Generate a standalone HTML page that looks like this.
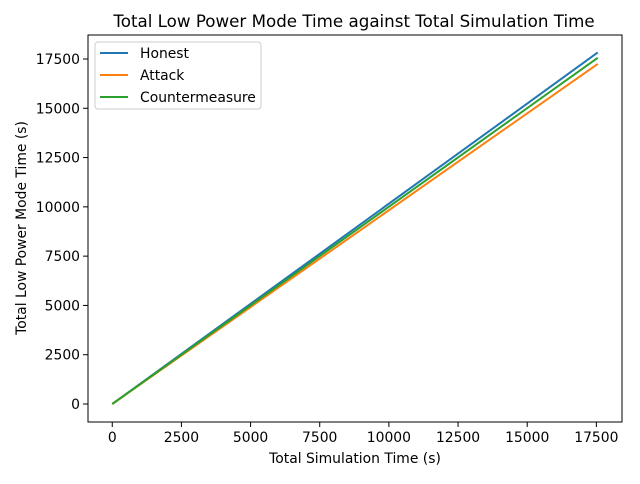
<!DOCTYPE html>
<html><head><meta charset="utf-8"><style>
body{margin:0;background:#fff;font-family:"DejaVu Sans","Liberation Sans",sans-serif}
svg text{font-family:"DejaVu Sans","Liberation Sans",sans-serif;fill:#000}
</style></head><body>
<svg id="c" width="640" height="480" xmlns="http://www.w3.org/2000/svg"></svg>
<script>
const xs=[0,17550];
const honest=[0,17830];
const attack=[0,17250];
const counter=[0,17560];
const xTicks=[0,2500,5000,7500,10000,12500,15000,17500];
const yTicks=[0,2500,5000,7500,10000,12500,15000,17500];
const L=88,R=622,T=35,B=422;
const x0=-877,x1=18427,y0=-913,y1=18717;
const X=v=>L+(v-x0)/(x1-x0)*(R-L);
const Y=v=>B-(v-y0)/(y1-y0)*(B-T);
const svg=document.getElementById('c');
const NS='http://www.w3.org/2000/svg';
function mk(t,a,p){const e=document.createElementNS(NS,t);for(const k in a)e.setAttribute(k,a[k]);(p||svg).appendChild(e);return e;}
let t=mk('text',{x:354,y:27,'font-size':16.7,'text-anchor':'middle'});t.textContent='Total Low Power Mode Time against Total Simulation Time';


xTicks.forEach(v=>{mk('line',{x1:X(v),x2:X(v),y1:B,y2:B+5,stroke:'#000'});
const e=mk('text',{x:X(v),y:B+20,'font-size':13.9,'text-anchor':'middle'});e.textContent=v;

});
yTicks.forEach(v=>{mk('line',{x1:L-5,x2:L,y1:Y(v),y2:Y(v),stroke:'#000'});
const e=mk('text',{x:L-8,y:Y(v)+5,'font-size':13.9,'text-anchor':'end'});e.textContent=v;

});
t=mk('text',{x:355,y:463,'font-size':13.9,'text-anchor':'middle'});t.textContent='Total Simulation Time (s)';


t=mk('text',{x:26,y:228,'font-size':13.9,'text-anchor':'middle',transform:'rotate(-90 26 228)'});t.textContent='Total Low Power Mode Time (s)';


const series=[[honest,'#1f77b4','Honest'],[attack,'#ff7f0e','Attack'],[counter,'#2ca02c','Countermeasure']];
series.forEach(s=>{const p=mk('polyline',{points:xs.map((v,i)=>X(v)+','+Y(s[0][i])).join(' '),fill:'none',stroke:s[1],'stroke-width':2});

});
const f=mk('rect',{x:L,y:T,width:R-L,height:B-T,fill:'none',stroke:'#000','stroke-width':1});


const lg=mk('rect',{x:95,y:42,width:166,height:67,fill:'#fff',stroke:'#ccc',rx:3});


series.forEach((s,i)=>{const y=53+i*22;mk('line',{x1:100,x2:128,y1:y,y2:y,stroke:s[1],'stroke-width':2});
const e=mk('text',{x:140,y:y+5,'font-size':13.9});e.textContent=s[2];

});
</script>
</body></html>
